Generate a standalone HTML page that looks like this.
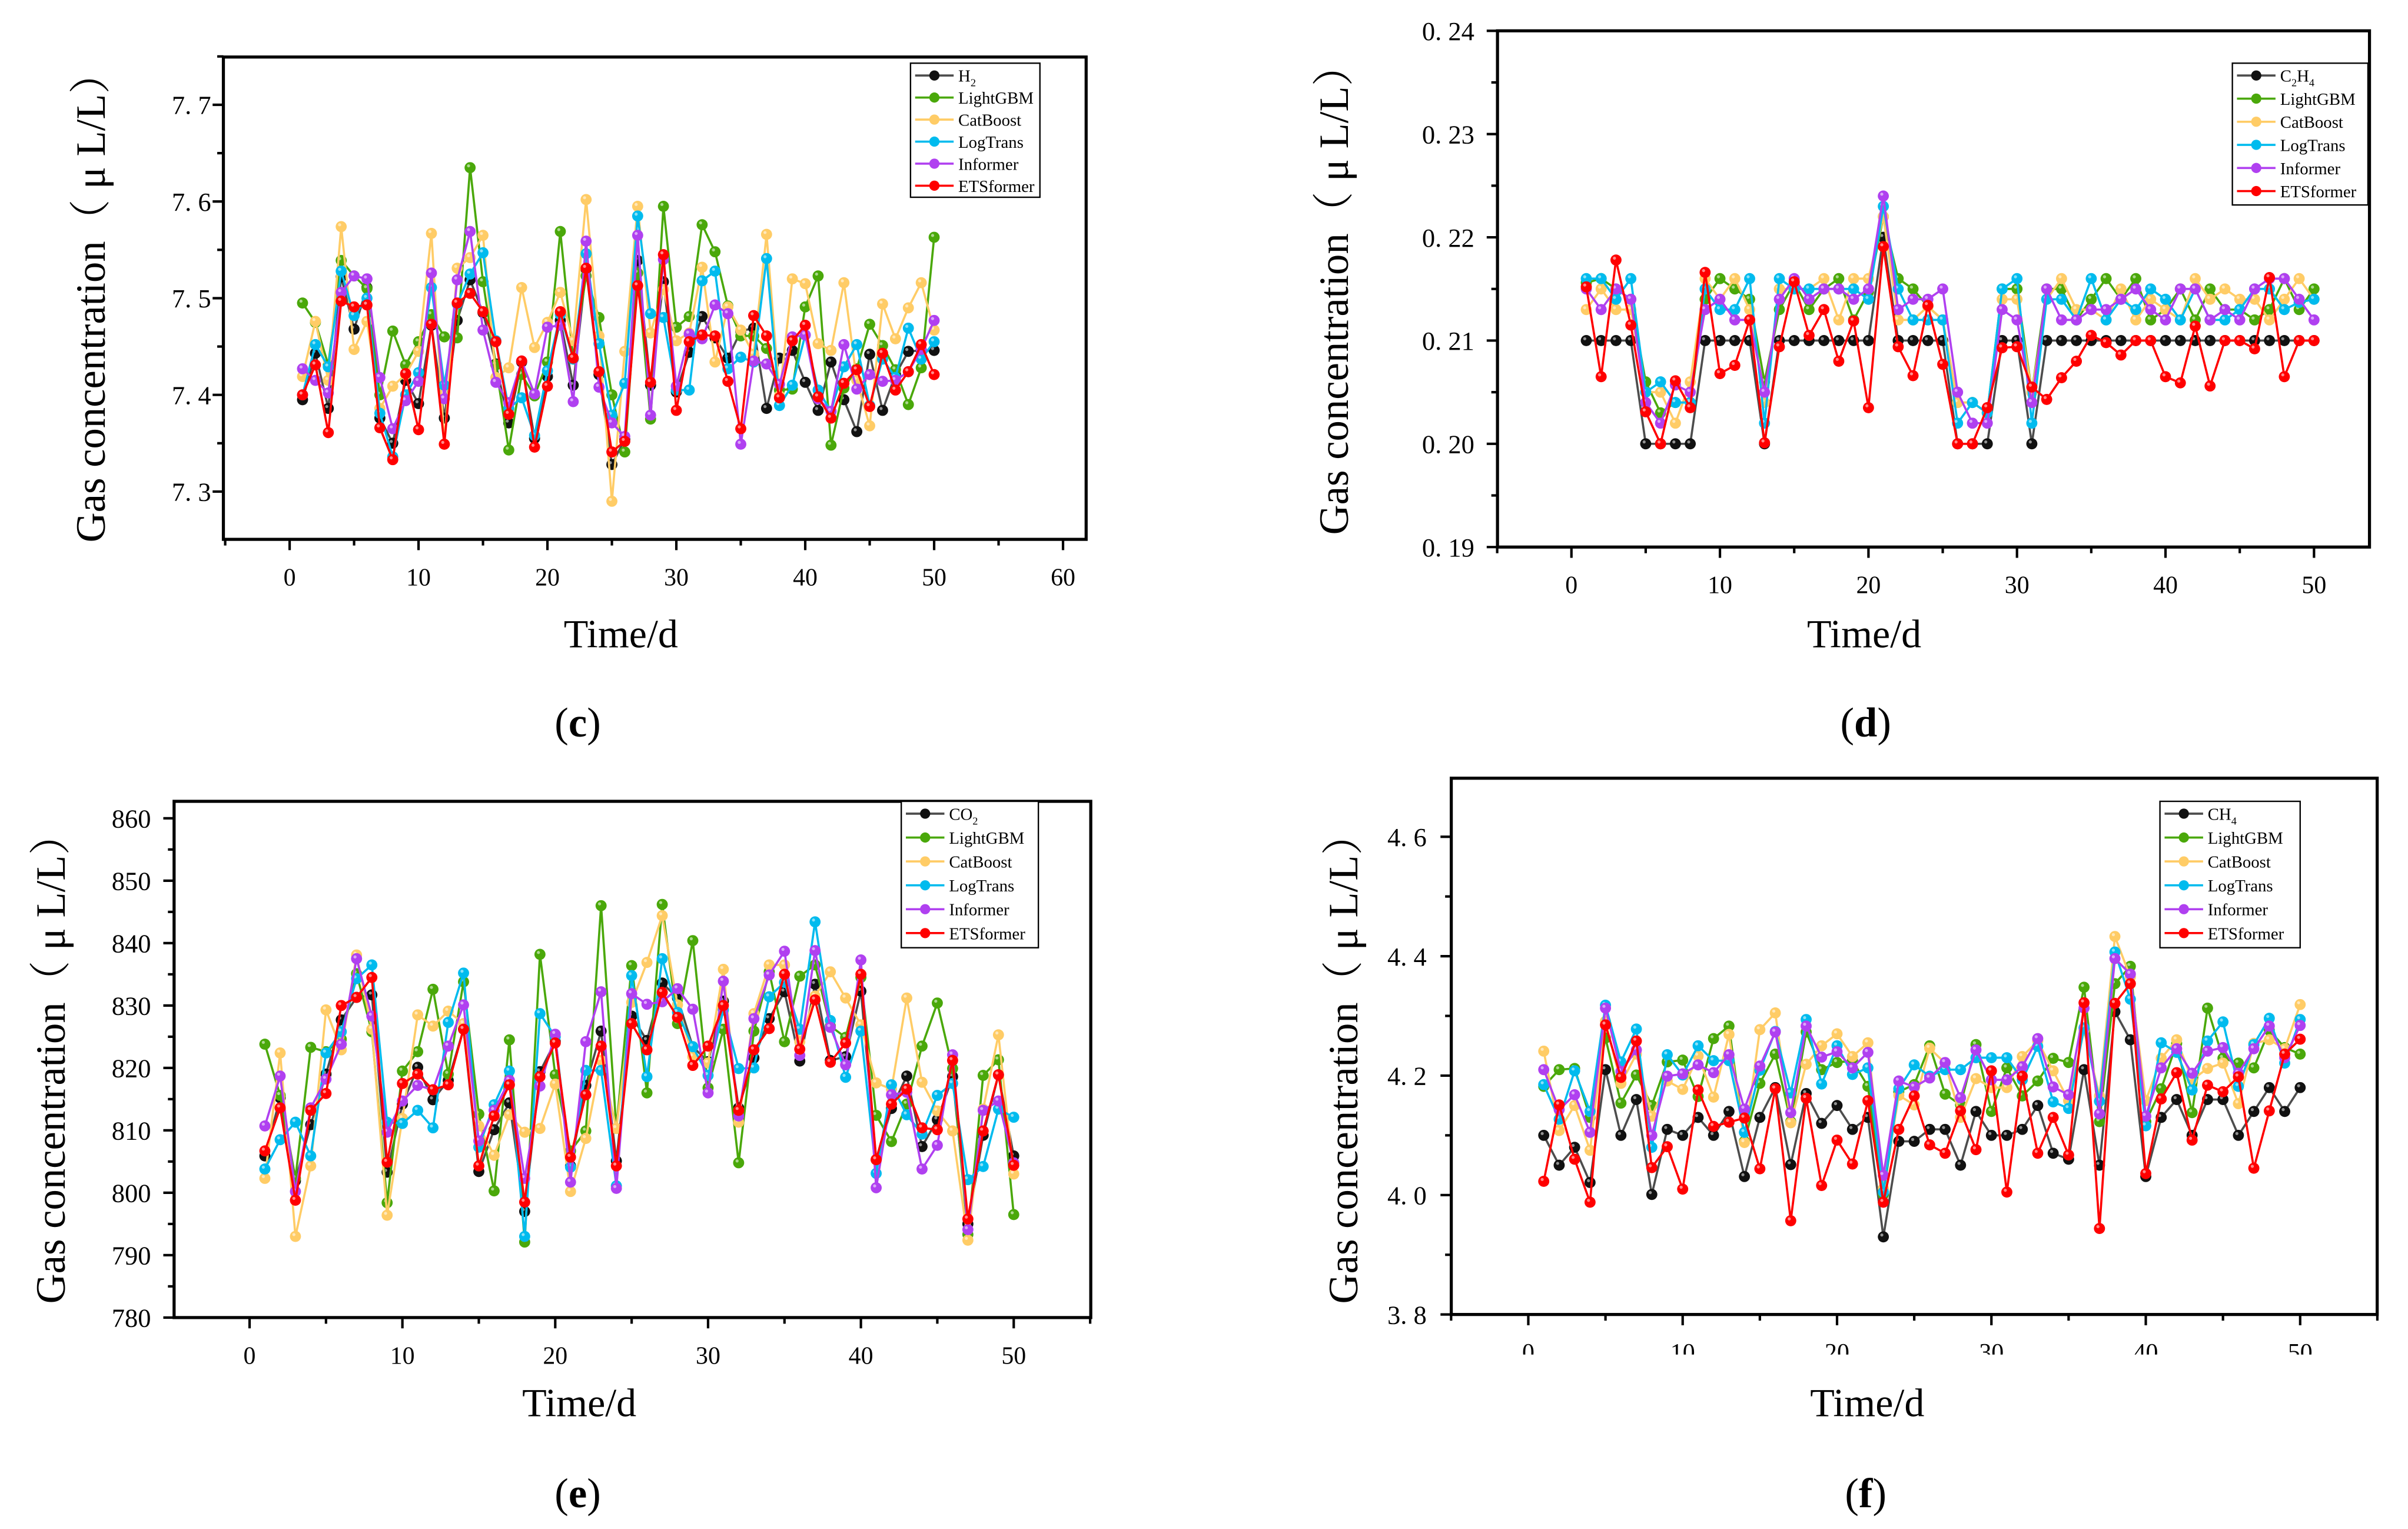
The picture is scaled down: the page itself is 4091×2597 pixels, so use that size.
<!DOCTYPE html>
<html><head><meta charset="utf-8"><style>
html,body{margin:0;padding:0;background:#fff;}
svg{display:block;}
text{font-family:"Liberation Serif","Noto Serif CJK SC",serif;fill:#000;}
</style></head><body>
<svg id="fig" xmlns="http://www.w3.org/2000/svg" width="4091" height="2597" viewBox="0 0 1563 992.2"></svg>
<script>
// ---- Panel (c) H2 ----
const cDays = Array.from({length:50},(_, i)=>i+1);
const cH2 = [7.395,7.443,7.386,7.522,7.468,7.511,7.376,7.350,7.415,7.391,7.472,7.376,7.477,7.519,7.485,7.432,7.371,7.434,7.355,7.419,7.477,7.410,7.530,7.421,7.328,7.354,7.539,7.410,7.517,7.403,7.444,7.481,7.459,7.438,7.466,7.469,7.386,7.438,7.446,7.413,7.384,7.434,7.395,7.362,7.442,7.384,7.421,7.445,7.446,7.446];
const cLightGBM = [7.495,7.475,7.431,7.539,7.523,7.510,7.400,7.466,7.431,7.455,7.483,7.460,7.459,7.635,7.517,7.431,7.343,7.421,7.399,7.434,7.569,7.437,7.523,7.480,7.400,7.341,7.526,7.375,7.595,7.470,7.481,7.576,7.548,7.492,7.461,7.461,7.448,7.405,7.406,7.491,7.523,7.348,7.407,7.427,7.473,7.451,7.426,7.390,7.428,7.563];
const cCatBoost = [7.419,7.476,7.415,7.574,7.447,7.476,7.386,7.409,7.421,7.445,7.567,7.349,7.531,7.542,7.565,7.418,7.428,7.511,7.449,7.475,7.506,7.456,7.602,7.461,7.290,7.445,7.595,7.464,7.509,7.456,7.464,7.532,7.434,7.491,7.467,7.442,7.566,7.399,7.520,7.515,7.453,7.446,7.516,7.415,7.368,7.494,7.458,7.490,7.516,7.467];
const cLogTrans = [7.400,7.452,7.429,7.528,7.482,7.500,7.381,7.336,7.400,7.423,7.511,7.410,7.494,7.525,7.547,7.456,7.386,7.397,7.358,7.425,7.483,7.437,7.546,7.453,7.379,7.412,7.585,7.484,7.480,7.405,7.405,7.518,7.528,7.427,7.439,7.434,7.541,7.389,7.410,7.462,7.405,7.383,7.429,7.452,7.389,7.437,7.418,7.469,7.437,7.455];
const cInformer = [7.427,7.415,7.402,7.506,7.523,7.520,7.418,7.365,7.394,7.414,7.526,7.396,7.519,7.569,7.467,7.413,7.392,7.435,7.401,7.470,7.472,7.393,7.559,7.408,7.371,7.357,7.565,7.379,7.540,7.409,7.463,7.458,7.493,7.484,7.349,7.435,7.432,7.411,7.460,7.462,7.396,7.383,7.452,7.406,7.421,7.414,7.415,7.424,7.447,7.477];
const cETSformer = [7.400,7.431,7.361,7.497,7.491,7.493,7.366,7.333,7.422,7.364,7.473,7.349,7.495,7.505,7.486,7.455,7.380,7.435,7.346,7.409,7.486,7.438,7.531,7.424,7.341,7.352,7.513,7.413,7.545,7.384,7.455,7.462,7.461,7.414,7.365,7.482,7.461,7.397,7.456,7.472,7.398,7.376,7.412,7.426,7.388,7.443,7.405,7.424,7.452,7.421];
const cXTicks = [0,10,20,30,40,50,60];
const cYTicks = [7.3,7.4,7.5,7.6,7.7];

// ---- Panel (d) C2H4 ----
const dC2H4 = [.21,.21,.21,.21,.20,.20,.20,.20,.21,.21,.21,.21,.20,.21,.21,.21,.21,.21,.21,.21,.22,.21,.21,.21,.21,.20,.20,.20,.21,.21,.20,.21,.21,.21,.21,.21,.21,.21,.21,.21,.21,.21,.21,.21,.21,.21,.21,.21,.21,.21];
const dLightGBM = [.2156,.216,.215,.214,.206,.203,.204,.204,.214,.216,.215,.214,.206,.213,.2156,.213,.215,.216,.212,.2147,.222,.216,.215,.2133,.212,.204,.204,.203,.215,.215,.205,.215,.215,.212,.214,.216,.214,.216,.212,.213,.215,.212,.215,.213,.213,.212,.213,.216,.213,.215];
const dCatBoost = [.213,.215,.213,.213,.205,.205,.202,.206,.216,.214,.216,.213,.204,.215,.215,.215,.216,.212,.216,.216,.222,.212,.212,.2133,.212,.204,.204,.203,.214,.214,.205,.214,.216,.213,.213,.212,.215,.212,.214,.213,.212,.216,.214,.215,.214,.214,.212,.214,.216,.214];
const dLogTrans = [.216,.216,.214,.216,.205,.206,.204,.204,.215,.213,.213,.216,.202,.216,.215,.215,.215,.215,.215,.214,.223,.215,.212,.212,.212,.202,.204,.203,.215,.216,.202,.214,.214,.212,.216,.212,.214,.213,.215,.214,.212,.215,.212,.212,.213,.215,.215,.213,.2137,.214];
const dInformer = [.215,.213,.215,.214,.204,.202,.2057,.205,.213,.214,.212,.212,.205,.214,.216,.214,.215,.215,.214,.215,.224,.213,.214,.214,.215,.205,.202,.202,.213,.212,.204,.215,.212,.212,.213,.213,.214,.215,.213,.212,.215,.215,.212,.213,.212,.215,.216,.216,.214,.212];
const dETSformer = [.2152,.2065,.2178,.2115,.2031,.200,.2061,.2035,.2166,.2068,.2076,.212,.2001,.2094,.2157,.2105,.213,.208,.2119,.2035,.2191,.2094,.2066,.2134,.2077,.200,.200,.2035,.2093,.2094,.2055,.2043,.2064,.208,.2105,.2098,.2086,.21,.21,.2065,.2059,.2114,.2056,.21,.21,.2092,.2161,.2065,.21,.21];
const dXTicks = [0,10,20,30,40,50];
const dYTicks = [0.19,0.20,0.21,0.22,0.23,0.24];

// ---- Panel (e) CO2 ----
const eCO2 = [805.9,815.2,801.9,810.9,819.0,827.7,831.3,831.7,803.3,814.2,820.1,814.9,818.0,826.2,803.4,810.1,814.4,797.0,819.4,824.2,804.3,817.2,825.9,805.1,828.3,824.4,833.6,831.2,823.4,821.0,830.7,813.6,821.6,827.9,832.2,821.1,833.4,821.2,821.8,832.3,805.3,813.5,818.7,807.4,811.7,818.6,795.0,809.2,818.9,805.9];
const eLightGBM = [823.8,815.6,802.3,823.3,822.6,824.6,835.1,825.8,798.4,819.5,822.6,832.6,819.0,833.8,812.6,800.3,824.5,792.1,838.2,818.9,806.7,809.9,846.0,810.3,836.4,816.0,846.2,827.1,840.4,816.8,826.2,804.8,825.9,835.4,824.2,834.7,836.5,826.7,824.9,834.5,812.4,808.2,814.2,823.5,830.4,819.9,793.3,818.8,821.3,796.5];
const eCatBoost = [802.3,822.4,793.0,804.3,829.3,822.9,838.1,826.2,796.4,811.9,828.5,826.7,829.1,827.1,810.7,806.0,812.5,809.7,810.3,817.4,800.2,808.7,821.2,810.3,830.5,836.9,844.4,830.1,821.8,820.8,835.8,811.3,828.7,836.5,836.5,824.2,831.5,835.4,831.2,826.9,817.6,816.6,831.2,817.7,813.1,809.9,792.4,813.4,825.3,803.0];
const eLogTrans = [803.8,808.5,811.3,805.9,822.4,825.8,834.3,836.5,811.3,811.1,813.2,810.4,827.3,835.2,807.3,814.1,819.5,793.0,828.7,825.0,804.1,819.6,819.6,801.1,834.8,818.6,837.5,828.9,823.4,818.8,829.3,819.9,820.0,831.4,833.7,826.2,843.4,827.6,818.5,825.9,803.1,817.3,812.5,809.4,815.6,817.5,802.1,804.2,813.4,812.1];
const eInformer = [810.7,818.7,800.2,813.6,818.2,823.8,837.5,828.3,809.7,814.7,817.2,816.5,823.5,830.1,808.3,813.2,818.0,802.3,817.1,825.4,801.7,824.2,832.2,800.7,831.9,830.2,830.6,832.7,829.4,816.0,833.9,812.3,827.9,834.9,838.7,822.0,838.8,826.5,820.5,837.3,800.8,815.7,816.1,803.8,807.6,822.1,794.1,813.2,814.7,804.8];
const eETSformer = [806.7,813.6,798.8,813.2,815.9,830.0,831.3,834.5,804.9,817.5,819.0,816.5,817.3,826.2,804.3,812.3,817.3,798.5,818.6,824.0,805.7,815.7,823.5,804.3,827.1,822.9,832.1,828.1,820.4,823.5,830.0,813.2,822.9,826.3,835.0,823.0,830.9,820.9,824.0,835.0,805.3,814.2,816.6,810.4,810.1,821.2,795.8,809.9,818.9,804.4];
const eXTicks = [0,10,20,30,40,50];
const eYTicks = [780,790,800,810,820,830,840,850,860];

// ---- Panel (f) CH4 ----
const fCH4 = [4.100,4.050,4.080,4.021,4.210,4.100,4.160,4.001,4.110,4.100,4.130,4.100,4.140,4.031,4.130,4.180,4.051,4.170,4.120,4.150,4.110,4.130,3.930,4.090,4.090,4.110,4.110,4.050,4.140,4.100,4.100,4.110,4.150,4.070,4.060,4.210,4.050,4.307,4.260,4.031,4.130,4.160,4.100,4.160,4.160,4.100,4.140,4.180,4.140,4.180];
const fLightGBM = [4.182,4.210,4.212,4.130,4.263,4.154,4.201,4.150,4.223,4.226,4.165,4.262,4.283,4.090,4.187,4.236,4.123,4.273,4.210,4.222,4.225,4.182,4.001,4.173,4.185,4.250,4.169,4.151,4.252,4.140,4.213,4.166,4.191,4.229,4.222,4.348,4.123,4.354,4.383,4.123,4.178,4.254,4.138,4.313,4.229,4.221,4.213,4.276,4.247,4.236];
const fCatBoost = [4.241,4.108,4.150,4.075,4.291,4.187,4.236,4.132,4.191,4.177,4.233,4.164,4.269,4.088,4.277,4.305,4.121,4.219,4.250,4.270,4.232,4.255,4.011,4.167,4.151,4.246,4.221,4.130,4.195,4.180,4.180,4.232,4.258,4.208,4.158,4.276,4.166,4.433,4.365,4.158,4.229,4.260,4.193,4.212,4.221,4.153,4.254,4.260,4.245,4.319];
const fLogTrans = [4.185,4.127,4.208,4.140,4.318,4.223,4.278,4.080,4.235,4.201,4.250,4.225,4.225,4.105,4.209,4.274,4.171,4.294,4.186,4.250,4.202,4.213,4.005,4.178,4.218,4.199,4.210,4.210,4.230,4.230,4.230,4.193,4.249,4.156,4.145,4.280,4.157,4.407,4.328,4.116,4.255,4.239,4.176,4.258,4.290,4.182,4.252,4.296,4.221,4.294];
const fInformer = [4.210,4.143,4.168,4.105,4.313,4.207,4.243,4.100,4.199,4.203,4.218,4.205,4.235,4.144,4.216,4.273,4.138,4.283,4.231,4.240,4.213,4.239,4.033,4.191,4.181,4.196,4.222,4.163,4.243,4.193,4.193,4.215,4.262,4.181,4.168,4.313,4.136,4.396,4.370,4.132,4.213,4.245,4.204,4.241,4.247,4.204,4.245,4.283,4.230,4.284];
const fETSformer = [4.023,4.151,4.060,3.988,4.285,4.197,4.258,4.046,4.081,4.010,4.176,4.115,4.122,4.129,4.044,4.178,3.957,4.162,4.016,4.092,4.052,4.158,3.988,4.110,4.166,4.084,4.070,4.141,4.076,4.208,4.005,4.199,4.070,4.130,4.067,4.322,3.944,4.321,4.354,4.036,4.161,4.205,4.092,4.184,4.173,4.198,4.045,4.141,4.236,4.261];
const fXTicks = [0,10,20,30,40,50];
const fYTicks = [3.8,4.0,4.2,4.4,4.6];

const seriesNames = ["target","LightGBM","CatBoost","LogTrans","Informer","ETSformer"];
const lineColors = ["#4d4d4d","#4aa80a","#ffcc66","#00bbee","#b040f0","#ff0000"];
const dotColors  = ["#111111","#4aa80a","#ffcc66","#00bbee","#b040f0","#ff0000"];

const NS = "http://www.w3.org/2000/svg";
const svg = document.getElementById("fig");
function mk(tag, attrs, parent){
  const e = document.createElementNS(NS, tag);
  for (const k in attrs) e.setAttribute(k, attrs[k]);
  (parent||svg).appendChild(e);
  return e;
}

const panels = [
 {id:"c", gas:["H","2",""], data:[cH2,cLightGBM,cCatBoost,cLogTrans,cInformer,cETSformer], xt:cXTicks, yt:cYTicks,
  L:145,R:705,T:37,B:350, x0:188,x1:690,xv0:0,xv1:60, y0:319,y1:68,yv0:7.3,yv1:7.7, xmin:-5,xmax:62, ydec:1, sep:true, ymStep:0.05,
  lg:{x:591,y:41,w:84,h:87,dy:14.3}, ylab:{x:68,y:193}, tlab:{x:403,y:420}, plab:{x:375,y:478}, tickLx:137},
 {id:"d", gas:["C","2","H","4"], data:[dC2H4,dLightGBM,dCatBoost,dLogTrans,dInformer,dETSformer], xt:dXTicks, yt:dYTicks,
  L:972,R:1538,T:20,B:355, x0:1020,x1:1502,xv0:0,xv1:50, y0:355,y1:20,yv0:0.19,yv1:0.24, xmin:-5,xmax:53, ydec:2, sep:true, ymStep:0.005,
  lg:{x:1449,y:41,w:88,h:92,dy:15}, ylab:{x:875,y:188}, tlab:{x:1210,y:420}, plab:{x:1211,y:478}, tickLx:957},
 {id:"e", gas:["CO","2",""], data:[eCO2,eLightGBM,eCatBoost,eLogTrans,eInformer,eETSformer], xt:eXTicks, yt:eYTicks,
  L:113,R:708,T:520,B:855, x0:162,x1:658,xv0:0,xv1:50, y0:855,y1:531,yv0:780,yv1:860, xmin:-5,xmax:55, ydec:0, sep:false, ymStep:5,
  lg:{x:585,y:520,w:89,h:95,dy:15.5}, ylab:{x:42,y:687}, tlab:{x:376,y:919}, plab:{x:375,y:978}, tickLx:98},
 {id:"f", gas:["CH","4",""], data:[fCH4,fLightGBM,fCatBoost,fLogTrans,fInformer,fETSformer], xt:fXTicks, yt:fYTicks,
  L:942,R:1543,T:505,B:853, x0:992,x1:1493,xv0:0,xv1:50, y0:853,y1:543,yv0:3.8,yv1:4.6, xmin:-5,xmax:55, ydec:1, sep:true, ymStep:0.1,
  lg:{x:1402,y:520,w:91,h:95,dy:15.5}, ylab:{x:881,y:687}, tlab:{x:1212,y:919}, plab:{x:1211,y:978}, tickLx:926, clipX:true}
];

panels.forEach(p=>{
  const g = mk("g",{});
  
  
  const sx = v => p.x0 + (v - p.xv0)*(p.x1-p.x0)/(p.xv1-p.xv0);
  const sy = v => p.y0 + (v - p.yv0)*(p.y1-p.y0)/(p.yv1-p.yv0);
  // frame
  const frame = mk("rect",{x:p.L,y:p.T,width:p.R-p.L,height:p.B-p.T,fill:"none",stroke:"#000","stroke-width":2},g);
  
  
  // x ticks
  const xg = mk("g",{},g);
  
  
  for (let v=p.xmin; v<=p.xmax; v+=5){
    const X = sx(v);
    if (X < p.L-0.5 || X > p.R+0.5) continue;
    const major = (v % 10 === 0);
    mk("line",{x1:X,y1:p.B,x2:X,y2:p.B+(major?7:4),stroke:"#000","stroke-width":1.6},xg);
  }
  p.xt.forEach(v=>{
    const t = mk("text",{x:sx(v),y:p.B+30,"text-anchor":"middle","font-size":16},xg);
    t.textContent = v;
    
    
  });
  if (p.clipX){
    const cover = mk("rect",{x:p.L-30,y:p.B+26,width:p.R-p.L+40,height:12,fill:"#fff"},xg);
  }
  // y ticks
  const yg = mk("g",{},g);
  
  
  const lo = Math.min(p.yv0, p.yt[0]);
  for (let k=0; ; k++){
    const v = p.yt[0] + k*p.ymStep;
    const Y = sy(v);
    if (Y < p.T-0.5) break;
    if (Y > p.B+0.5) continue;
    const major = (k % 2 === 0);
    mk("line",{x1:p.L,y1:Y,x2:p.L-(major?7:4),y2:Y,stroke:"#000","stroke-width":1.6},yg);
  }
  p.yt.forEach(v=>{
    let s = v.toFixed(p.ydec);
    if (p.sep) s = s.replace(".", ". ");
    const t = mk("text",{x:p.tickLx,y:sy(v)+6,"text-anchor":"end","font-size":17},yg);
    t.textContent = s;
    
    
  });
  // titles
  const yt = mk("text",{x:p.ylab.x,y:p.ylab.y,"text-anchor":"middle","font-size":27,transform:`rotate(-90 ${p.ylab.x} ${p.ylab.y})`},g);
  yt.textContent = "Gas concentration（ μ L/L）";
  
  
  const xt = mk("text",{x:p.tlab.x,y:p.tlab.y,"text-anchor":"middle","font-size":26},g);
  xt.textContent = "Time/d";
  
  
  const pl = mk("text",{x:p.plab.x,y:p.plab.y,"text-anchor":"middle","font-size":27},g);
  pl.innerHTML = '(<tspan font-weight="bold">'+p.id+'</tspan>)';
  
  
  // series
  p.data.forEach((arr, si)=>{
    const sg = mk("g",{},g);
    
    
    const pts = arr.map((v,i)=> sx(cDays[i]).toFixed(2)+","+sy(v).toFixed(2)).join(" ");
    mk("polyline",{points:pts,fill:"none",stroke:lineColors[si],"stroke-width":1.4,"stroke-linejoin":"round"},sg);
    arr.forEach((v,i)=>{
      const c = mk("circle",{cx:sx(cDays[i]),cy:sy(v),r:3.6,fill:dotColors[si]},sg);
      
      
      mk("circle",{cx:sx(cDays[i])-1,cy:sy(v)-1.2,r:1,fill:"#fff","fill-opacity":0.55},sg);
    });
  });
  // legend
  const lg = mk("g",{},g);
  
  
  mk("rect",{x:p.lg.x,y:p.lg.y,width:p.lg.w,height:p.lg.h,fill:"#fff",stroke:"#000","stroke-width":0.9},lg);
  const labels = [null,"LightGBM","CatBoost","LogTrans","Informer","ETSformer"];
  labels.forEach((lab,si)=>{
    const ey = p.lg.y + 8 + si*p.lg.dy;
    const eg = mk("g",{},lg);
    
    
    mk("line",{x1:p.lg.x+3,y1:ey,x2:p.lg.x+28,y2:ey,stroke:lineColors[si],"stroke-width":1.4},eg);
    mk("circle",{cx:p.lg.x+15.5,cy:ey,r:3.3,fill:dotColors[si]},eg);
    const t = mk("text",{x:p.lg.x+31,y:ey+4,"font-size":11},eg);
    if (lab) t.textContent = lab;
    else {
      t.innerHTML = p.gas[0]+'<tspan font-size="7" dy="3">'+p.gas[1]+'</tspan>'+(p.gas[2]?'<tspan dy="-3">'+p.gas[2]+'</tspan><tspan font-size="7" dy="3">'+p.gas[3]+'</tspan>':'');
    }
  });
});
</script>
</body></html>
